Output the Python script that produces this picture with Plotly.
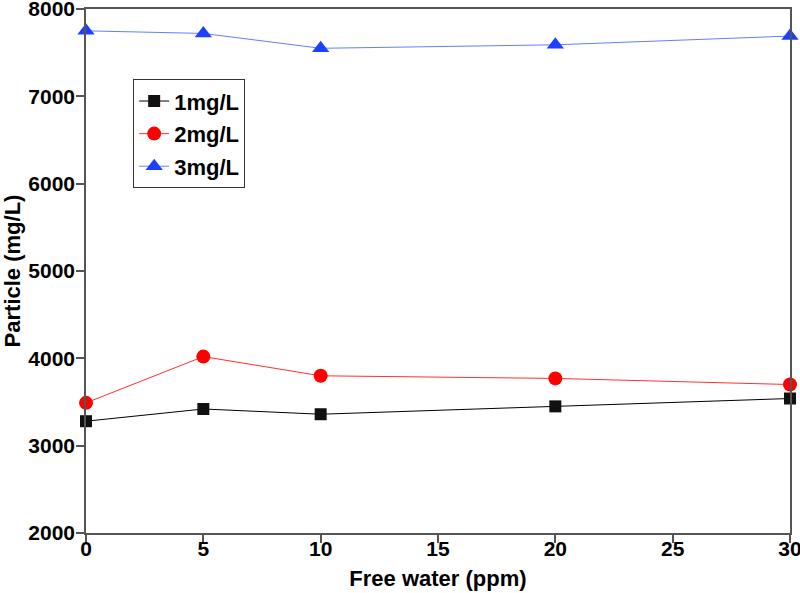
import plotly.graph_objects as go

# data
free_water = [0, 5, 10, 20, 30]
particle_1mg = [3280, 3420, 3360, 3450, 3540]
particle_2mg = [3490, 4020, 3800, 3770, 3700]
particle_3mg = [7750, 7720, 7550, 7590, 7690]

series = [
    ("1mg/L", particle_1mg, "black", "#111111", "square", 12),
    ("2mg/L", particle_2mg, "#ff3030", "#ff0000", "circle", 14),
    ("3mg/L", particle_3mg, "#6080ff", "#1f3fff", "triangle-up", 15),
]

fig = go.Figure()
for name, values, line_color, marker_color, symbol, size in series:
    fig.add_trace(go.Scatter(
        x=free_water, y=values, name=name, legendgroup=name,
        mode="lines+markers",
        line=dict(color=line_color, width=1),
        marker=dict(symbol=symbol, size=size, color=marker_color),
        cliponaxis=False,
    ))

axis_style = dict(
    showline=True, linecolor="#555555", linewidth=1.5, mirror=True,
    ticks="outside", ticklen=8, tickcolor="#555555", tickwidth=1.5,
    showgrid=False, zeroline=False, automargin=False,
    ticklabeloverflow="allow",
    tickfont=dict(family="Liberation Sans", size=21, color="black", weight="bold"),
)

fig.update_layout(
    width=800, height=593,
    margin=dict(l=86, r=10, t=9, b=60),
    plot_bgcolor="white", paper_bgcolor="white",
    font=dict(family="Liberation Sans", color="black"),
    showlegend=True,
    legend=dict(
        x=0.067, y=0.866, xanchor="left", yanchor="top",
        bordercolor="#333333", borderwidth=1, bgcolor="white",
        font=dict(size=22, weight="bold"), tracegroupgap=1,
    ),
    xaxis=dict(
        range=[0, 30], dtick=5, ticklabelstandoff=-12,
        title=dict(text="Free water (ppm)", standoff=12,
                   font=dict(size=22, weight="bold")),
        **axis_style,
    ),
    yaxis=dict(
        range=[2000, 8000], dtick=1000, ticklabelstandoff=-3,
        title=dict(text="Particle (mg/L)", standoff=6,
                   font=dict(size=22, weight="bold")),
        **axis_style,
    ),
)

# the page body has a default 8px margin; drop it so the figure fills the window
fig.write_html("out.html", config={"displayModeBar": False},
               post_script="document.body.style.margin='0';")
